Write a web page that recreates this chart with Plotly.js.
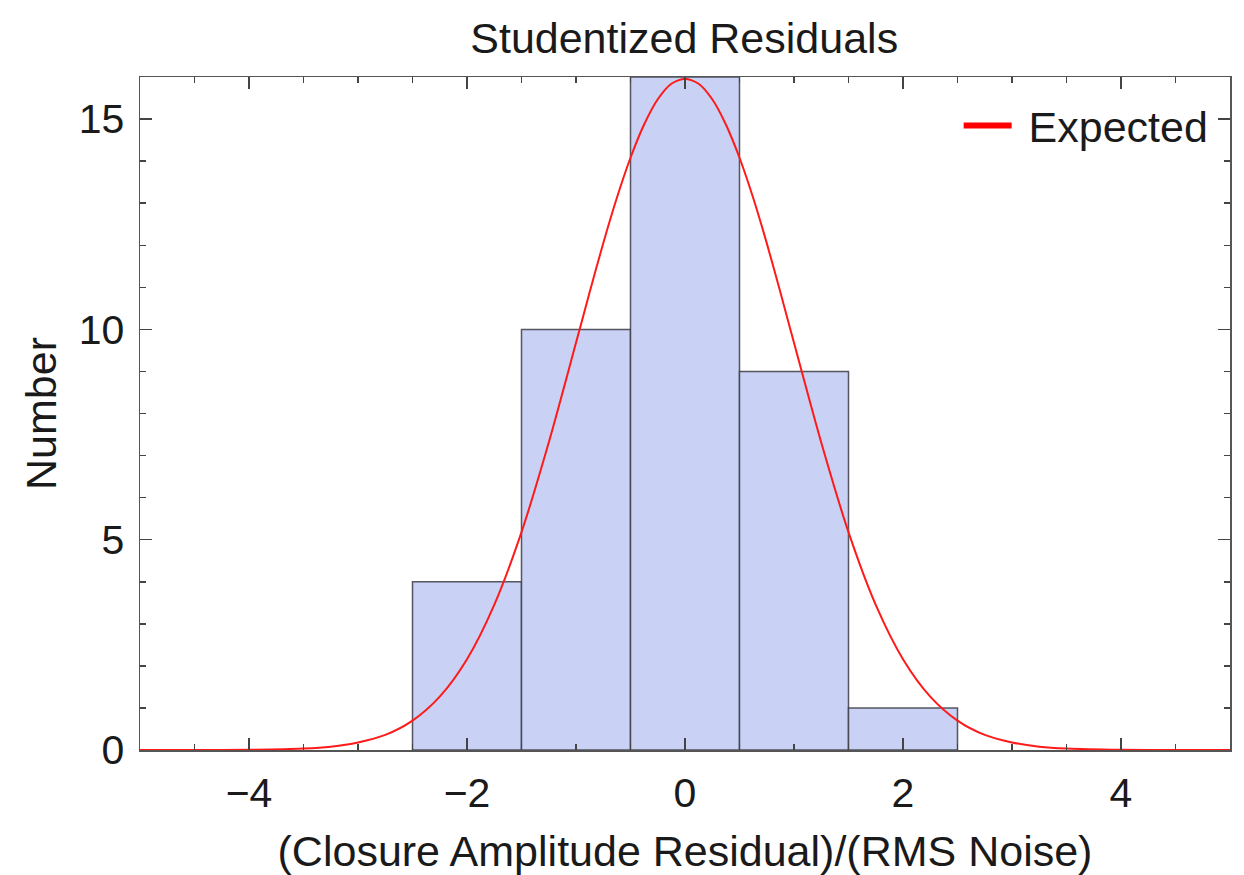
<!DOCTYPE html>
<html>
<head>
<meta charset="utf-8">
<script src="https://cdn.plot.ly/plotly-3.0.1.min.js"></script>
<style>
  html, body { margin: 0; padding: 0; background: #ffffff; }
  #chart { width: 1244px; height: 875px; }
</style>
</head>
<body>
<div id="chart"></div>
<script>
// Histogram bins (centres, unit width) and counts
const binCenters = [-2, -1, 0, 1, 2];
const binCounts = [4, 10, 16, 9, 1];

// Expected counts curve
const expectedX = [-5, -4.5, -4, -3.5, -3.25, -3, -2.75, -2.5, -2.25, -2, -1.75, -1.5, -1.25, -1, -0.875, -0.75, -0.625, -0.5,
                   -0.375, -0.25, -0.125, 0, 0.125, 0.25, 0.375, 0.5, 0.625, 0.75, 0.875, 1, 1.25, 1.5, 1.75, 2, 2.25,
                   2.5, 2.75, 3, 3.25, 3.5, 4, 4.5, 5];
const expectedY = [0, 0.001, 0.005, 0.035, 0.08, 0.18, 0.36, 0.70, 1.27, 2.16, 3.45, 5.18, 7.31, 9.68, 10.88, 12.05, 13.13, 14.08,
                   14.87, 15.47, 15.84, 15.96, 15.84, 15.47, 14.87, 14.08, 13.13, 12.05, 10.88, 9.68, 7.31, 5.18, 3.45, 2.16, 1.27,
                   0.70, 0.36, 0.18, 0.08, 0.035, 0.005, 0.001, 0];

const FONT = 'Liberation Sans, Arial, Helvetica, sans-serif';
const INK = '#1a1a1a';

const traces = [
  {
    type: 'bar',
    x: binCenters,
    y: binCounts,
    width: 1,
    marker: { color: '#c9d1f4', line: { color: 'rgba(60,60,70,0.85)', width: 1.5 } },
    showlegend: false,
    hoverinfo: 'x+y'
  },
  {
    type: 'scatter',
    mode: 'lines',
    x: expectedX,
    y: expectedY,
    line: { color: '#ff1a1a', width: 2, shape: 'spline', smoothing: 0.8 },
    showlegend: false
  },
  {
    // legend entry with a thicker swatch
    type: 'scatter',
    mode: 'lines',
    x: [null],
    y: [null],
    name: '\u00a0Expected',
    line: { color: '#ff0000', width: 6 },
    showlegend: true
  }
];

const axisCommon = {
  showgrid: false,
  zeroline: false,
  showline: true,
  linecolor: '#555555',
  linewidth: 1.5,
  mirror: 'ticks',
  ticks: 'inside',
  ticklen: 12,
  tickwidth: 1.5,
  tickcolor: '#444444',
  ticklabelstandoff: 6,
  tickfont: { family: FONT, size: 41, color: INK }
};

const layout = {
  width: 1244,
  height: 875,
  paper_bgcolor: '#ffffff',
  plot_bgcolor: '#ffffff',
  margin: { l: 140, r: 14, t: 77, b: 125 },
  bargap: 0,
  title: {
    text: 'Studentized Residuals',
    font: { family: FONT, size: 43, color: INK },
    x: 0.55, xanchor: 'center',
    y: 0.957, yanchor: 'middle'
  },
  xaxis: Object.assign({}, axisCommon, {
    range: [-5, 5],
    tick0: -4,
    dtick: 2,
    minor: { dtick: 0.5, ticks: 'inside', ticklen: 6, tickwidth: 1.5, tickcolor: '#444444' },
    title: { text: '(Closure Amplitude Residual)/(RMS Noise)', font: { family: FONT, size: 43, color: INK }, standoff: 28 }
  }),
  yaxis: Object.assign({}, axisCommon, {
    range: [0, 16],
    tick0: 0,
    dtick: 5,
    minor: { dtick: 1, ticks: 'inside', ticklen: 6, tickwidth: 1.5, tickcolor: '#444444' },
    title: { text: 'Number', font: { family: FONT, size: 43, color: INK }, standoff: 8 }
  }),
  legend: {
    x: 0.985, xanchor: 'right',
    y: 0.979, yanchor: 'top',
    bgcolor: 'rgba(255,255,255,0)',
    font: { family: FONT, size: 43, color: INK },
    itemwidth: 48
  }
};

Plotly.newPlot('chart', traces, layout, { displayModeBar: false, staticPlot: true });
</script>
</body>
</html>
